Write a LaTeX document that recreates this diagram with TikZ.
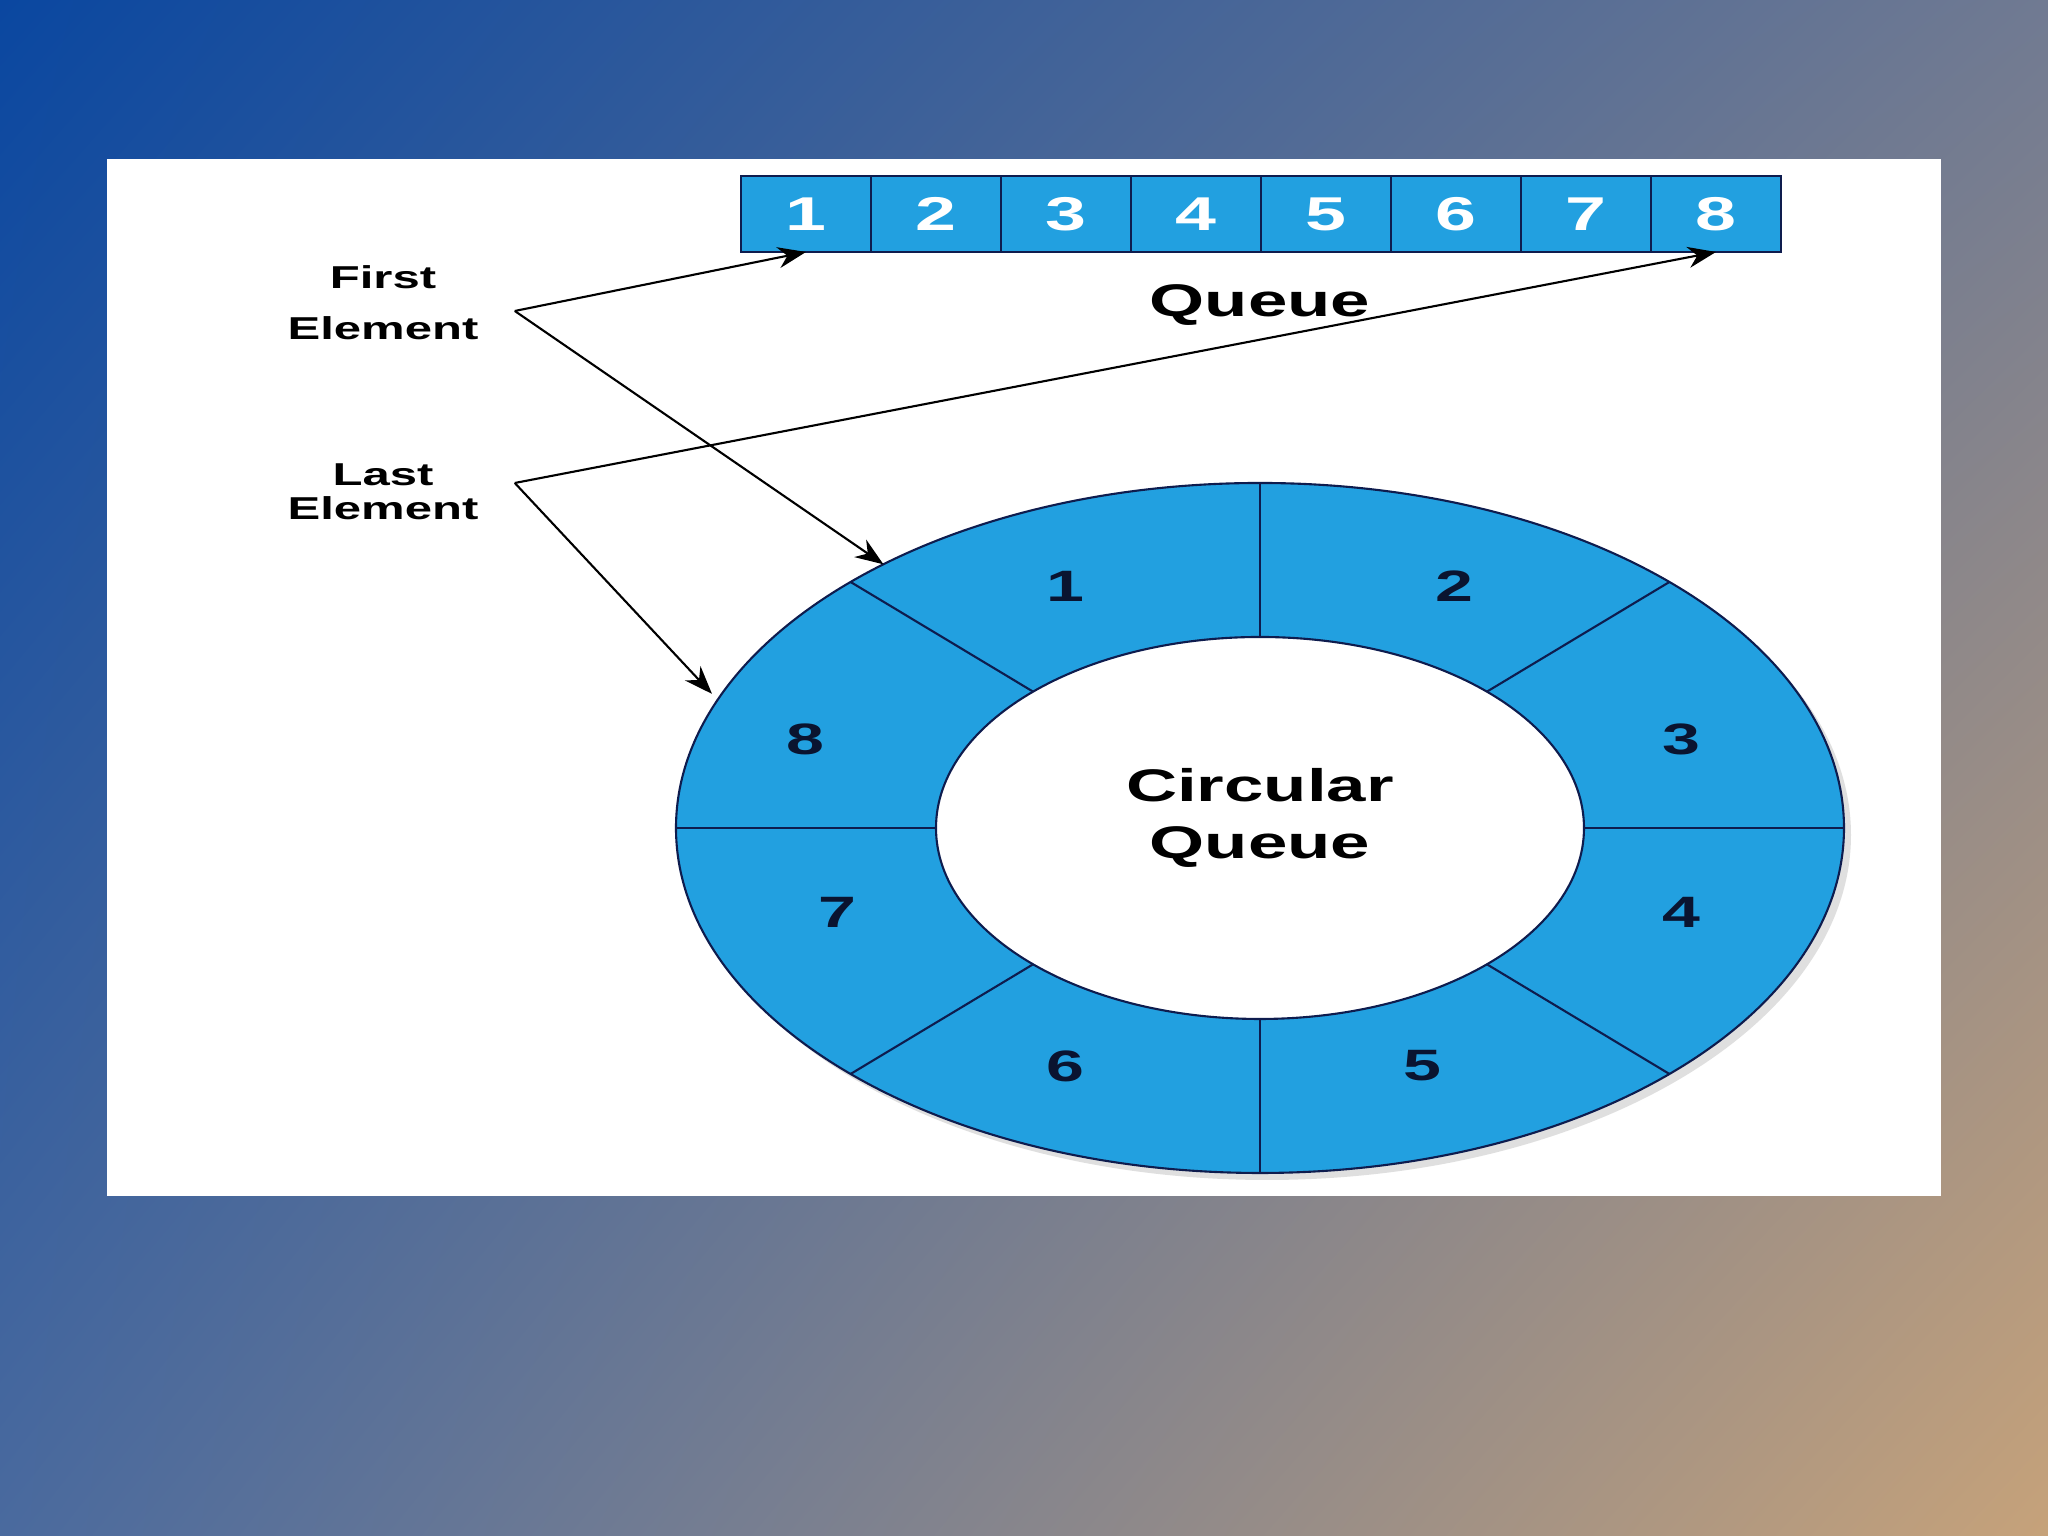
\documentclass[tikz,border=0pt]{standalone}
\usepackage{fontspec}
\setmainfont{Liberation Sans}
\newfontfamily\widefont{Liberation Sans}[FakeStretch=1.55]
\usetikzlibrary{positioning,shapes.geometric,arrows.meta,shadows,shadings}
\definecolor{bgtl}{RGB}{10,71,160}
\definecolor{bgtr}{RGB}{112,122,146}
\definecolor{bgbl}{RGB}{74,106,158}
\definecolor{bgbr}{RGB}{198,162,122}
\definecolor{cellblue}{RGB}{34,160,224}
\definecolor{navy}{RGB}{14,28,78}
\definecolor{numink}{RGB}{10,20,48}
\begin{document}
\begin{tikzpicture}[
  cell/.style={rectangle, fill=cellblue, draw=navy, line width=0.5pt, minimum width=1.3cm, minimum height=0.76cm, inner sep=0pt, outer sep=0pt, text=white, font=\widefont\bfseries\fontsize{13.5}{14}\selectfont},
  tag/.style={align=center, font=\widefont\bfseries\fontsize{9}{9.7}\selectfont},
  title/.style={font=\widefont\bfseries\fontsize{13}{15}\selectfont, align=center},
  num/.style={text=numink, font=\widefont\bfseries\fontsize{12.5}{13}\selectfont},
  arr/.style={-{Stealth[length=8pt,width=6pt]}, line width=0.6pt, black},
  divider/.style={draw=navy, line width=0.6pt}
]
\useasboundingbox (0,0) rectangle (20.48,15.36);
\shade[upper left=bgtl, upper right=bgtr, lower left=bgbl, lower right=bgbr] (0,0) rectangle (20.48,15.36);
\fill[white] (1.07,3.40) rectangle (19.41,13.77);

% the queue as a row of cells
\node[cell] (q1) at (8.06,13.22) {1};
\foreach \i [count=\j from 1] in {2,...,8}
  \node[cell, right=0pt of q\j] (q\i) {\i};
\node[title] (qname) at (12.6,12.31) {Queue};

% the circular queue
\node[ellipse, fill=cellblue, draw=navy, line width=0.6pt, minimum width=11.68cm, minimum height=6.9cm, inner sep=0pt, outer sep=0pt,
  drop shadow={shadow xshift=0.07cm, shadow yshift=-0.07cm, opacity=0.25}] (ring) at (12.60,7.08) {};
\node[ellipse, fill=white, draw=navy, line width=0.6pt, minimum width=6.48cm, minimum height=3.82cm, inner sep=0pt, outer sep=0pt] (hole) at (ring.center) {};
\node[title] (cname) at ([yshift=0.1cm]hole.center) {Circular\\[1pt]Queue};
\foreach \a in {0,31,90,149,180,211,270,329}
  \draw[divider] (hole.\a) -- (ring.\a);
\node[num] (n1) at ([shift={(-1.95,2.42)}]ring.center) {1};
\node[num] (n2) at ([shift={(1.94,2.42)}]ring.center) {2};
\node[num] (n3) at ([shift={(4.21,0.89)}]ring.center) {3};
\node[num] (n4) at ([shift={(4.21,-0.84)}]ring.center) {4};
\node[num] (n5) at ([shift={(1.62,-2.38)}]ring.center) {5};
\node[num] (n6) at ([shift={(-1.95,-2.38)}]ring.center) {6};
\node[num] (n7) at ([shift={(-4.23,-0.84)}]ring.center) {7};
\node[num] (n8) at ([shift={(-4.55,0.89)}]ring.center) {8};

% pointers
\node[tag] (first) at (3.83,12.33) {First\\[4.8pt]Element};
\node[tag] (last) at (3.83,10.44) {Last\\Element};
\coordinate (fj) at ([xshift=0.24cm,yshift=-0.08cm]first.east);
\coordinate (lj) at ([xshift=0.24cm,yshift=0.09cm]last.east);
\draw[arr] (fj) -- (q1.south);
\draw[arr] (fj) -- (ring.145);
\draw[arr] (lj) -- (q8.south);
\draw[arr] (lj) -- ([xshift=-0.1cm]ring.166);
\end{tikzpicture}
\end{document}
